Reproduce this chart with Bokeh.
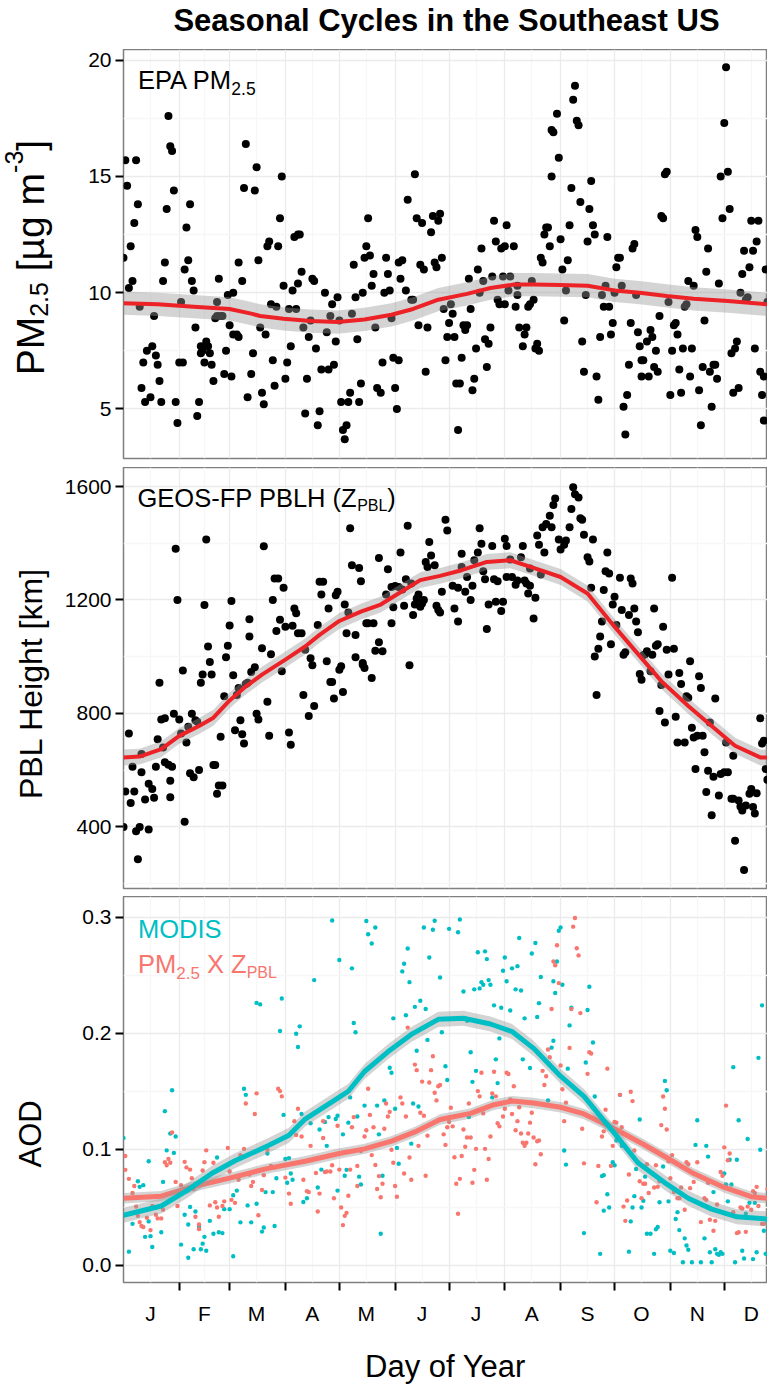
import numpy as np
from bokeh.plotting import figure
from bokeh.layouts import column, row
from bokeh.models import FixedTicker, Label, Range1d, PrintfTickFormatter
from bokeh.embed import file_html
from bokeh.resources import INLINE

FONT = "Liberation Sans"

# ---------------- data (day of year, value) ----------------
pm25_obs = [(1,11.5),(2,15.7),(3,14.6),(4,10.2),(5,12.0),(6,10.5),(7,13.0),(8,15.7),(9,13.8),(10,9.4),(11,5.9),(12,7.0),(13,5.3),(14,7.5),(16,5.5),(17,7.7),(18,9.0),(19,7.3),(20,6.9),(21,6.2),(22,5.3),(23,10.5),(24,11.3),(25,13.6),(26,17.6),(27,16.3),(28,16.1),(29,14.4),(30,5.3),(31,4.4),(32,7.0),(33,9.6),(34,7.0),(35,11.0),(36,12.8),(37,11.4),(38,13.8),(39,10.5),(40,10.1),(41,8.5),(42,4.7),(43,5.3),(44,7.7),(44,7.4),(45,7.5),(46,7.0),(47,7.9),(48,7.7),(49,7.4),(50,6.9),(51,6.2),(52,8.9),(53,9.6),(53,9.0),(54,10.6),(55,9.0),(56,9.0),(57,6.5),(58,7.5),(59,9.9),(60,8.6),(61,6.4),(62,8.2),(62,10.0),(64,8.2),(65,8.1),(65,11.3),(67,10.5),(68,14.5),(69,16.4),(70,5.5),
    (72,6.5),(73,7.4),(74,14.4),(75,15.4),(76,11.4),(77,8.5),(78,5.7),(79,5.2),(80,8.2),(81,12.0),(82,12.2),(83,9.5),(84,7.1),(85,6.0),(86,9.4),(87,12.0),(88,13.2),(89,15.0),(90,10.3),(91,6.3),(92,7.0),(93,9.3),(94,7.7),(95,10.1),(96,12.4),(97,9.3),(98,12.5),(98,10.4),(99,12.5),(100,10.9),(101,8.5),(102,4.8),(103,6.3),(104,8.1),(105,8.8),(106,10.6),(107,10.5),(108,7.6),(109,4.3),(110,4.9),(111,6.7),(113,10.0),(114,8.3),(115,6.7),(116,9.0),(117,9.5),(118,6.9),(119,7.9),(120,9.8),(121,8.8),(122,5.3),(123,4.1),(124,3.7),(125,4.3),(126,5.3),(127,5.7),(128,9.1),(129,11.2),(130,9.8),(131,8.0),(132,5.3),(133,6.1),(134,10.0),(135,11.5),(136,12.0),(137,13.2),(138,11.6),(139,10.3),(140,10.8),(141,8.5),(142,5.9),(144,5.7),(145,7.0),(146,10.0),(147,11.5),(148,10.8),(149,10.1),(150,8.9),(151,7.2),(152,5.9),(153,5.0),(154,7.1),(154,11.3),(155,10.6),
    (156,11.4),(158,10.1),(159,14.0),(161,9.7),(162,9.7),(163,15.1),(164,13.2),(165,8.6),(166,11.2),(167,13.0),(168,11.0),(169,6.6),(170,8.5),(172,12.6),(173,13.3),(174,11.3),(175,11.1),(176,13.1),(177,13.4),(178,11.5),(179,9.3),(180,7.1),(181,8.1),(182,8.7),(183,9.5),(184,9.1),(185,8.1),(186,6.1),(187,4.1),(188,6.1),(189,7.2),(190,8.6),(191,8.4),(192,8.6),(193,10.6),(194,9.3),(195,5.8),(196,6.3),(197,7.6),(198,11.0),(199,10.0),(200,11.9),(201,10.5),(202,8.0),(203,6.8),(204,7.8),(205,8.5),(206,10.7),(207,13.1),(208,12.2),(209,9.7),(210,9.5),(211,11.9),(212,10.7),(213,12.0),(213,9.5),(214,12.9),(215,10.1),(216,10.7),(218,12.0),(219,9.4),(220,9.9),(220,10.3),(221,8.5),(223,7.7),(224,8.2),(225,8.5),(226,9.4),(227,9.5),(228,10.5),(229,9.7),(230,7.6),(231,7.8),(232,7.5),(233,11.5),(234,11.3),(235,12.5),(236,12.8),(237,12.8),(238,12.0),(239,15.0),(239,17.0),(240,16.9),(242,17.7),(243,15.8),(244,12.3),(245,11.0),(246,8.8),(247,10.1),(248,11.4),(249,12.9),(250,14.5),(251,18.3),(252,18.9),(253,17.4),(254,17.2),(255,13.9),(256,7.9),(257,6.6),(258,9.9),(259,12.2),(260,13.6),(261,14.8),(262,12.9),(263,12.5),(264,6.4),(265,5.4),(266,8.1),(267,9.9),(268,9.4),(269,10.3),(270,12.4),(271,9.4),(272,8.2),(273,8.7),(274,10.0),(275,11.1),(276,11.5),(277,11.5),(278,10.3),(279,5.1),(280,3.9),(281,5.6),(282,6.9),(283,8.7),(284,11.9),(285,12.1),(286,9.9),(287,8.3),(288,7.7),(289,6.4),(289,7.1),(290,7.1),(292,7.9),(293,6.4),(294,8.4),(295,8.1),(296,6.8),(297,7.5),(298,6.6),(299,9.0),(300,13.3),(301,13.2),(302,15.1),(303,15.2),(304,9.6),(305,5.6),(306,7.5),(307,8.6),(308,8.7),(309,8.2),(310,6.7),(311,5.7),(312,7.6),(313,9.4),(314,9.5),(315,10.5),(316,6.4),(317,7.6),(318,10.3),(319,12.7),(320,12.4),(321,5.8),(322,4.3),(323,6.8),(324,8.8),(325,10.9),(326,11.9),(327,6.6),(328,5.1),(329,6.9),(330,6.9),(331,6.3),(332,10.4),(333,15.0),(334,13.2),(335,17.3),(336,19.7),(337,15.2),(338,13.6),(339,7.4),(340,5.7),(341,7.6),(342,7.9),(343,5.9),(344,10.0),(345,10.8),(346,11.8),(347,9.7),(348,9.8),(349,11.1),(350,13.1),(351,11.8),(352,7.6),(353,12.2),(354,13.1),(355,6.6),(356,5.6),(357,4.5),(357,6.4),(358,11.0),(359,9.6)]

pm25_fit_day = [1, 20, 40, 60, 72, 77, 90, 105, 120, 135, 150, 162, 176, 192, 205, 218, 229, 244, 259, 274, 288, 303, 318, 337, 359]
pm25_fit = [9.55, 9.5, 9.4, 9.3, 9.1, 9.0, 8.88, 8.78, 8.74, 8.85, 9.05, 9.3, 9.7, 9.95, 10.2, 10.35, 10.35, 10.33, 10.3, 10.1, 10.0, 9.86, 9.74, 9.64, 9.5]
pm25_se = 0.5

pblh_obs = [(1,400),(2,525),(4,729),(5,484),(6,612),(7,525),(8,385),(9,286),(10,400),(11,593),(11,657),(13,497),(15,391),(15,552),(17,534),(18,503),(19,612),(20,709),(21,908),(22,779),(23,680),(24,628),(24,783),(26,619),(27,563),(27,505),(28,612),(29,799),(30,1381),(31,1200),(32,779),(33,729),(34,951),(35,418),(36,698),(37,753),(38,589),(39,799),(40,575),(41,776),(42,771),(43,601),(44,908),(45,937),(46,1182),(47,1413),(48,1036),(49,981),(50,937),(51,618),(52,618),(53,517),(54,546),(55,718),(56,546),(57,861),(58,998),(59,1039),(60,1110),(61,1196),(62,935),(63,741),(64,865),(65,890),(66,776),(67,727),(68,694),(69,904),(70,908),(71,1071),(71,1132),(72,946),(74,963),(75,799),(76,779),(78,1030),(79,1389),(81,841),(82,721),(83,1009),(84,1200),(85,1276),(86,1091),(87,1276),(88,1130),(89,949),(90,1243),(91,1106),(93,733),(94,690),(95,1109),(96,1170),(97,1153),(98,1083),(100,1083),(101,865),(102,1025),(104,791),(105,995),(106,970),(107,826),(109,1112),(110,1264),(111,1219),(112,1264),(114,984),(115,1170),(116,911),(117,911),(118,853),(119,1217),(120,1229),(121,954),(122,966),(123,876),(124,1184),(125,1083),(126,1156),(127,1453),(128,1322),(130,1077),(130,998),(132,1313),(133,1266),(134,972),(134,978),(135,960),(136,1118),(137,1118),(139,925),(140,1118),(141,1021),(143,1348),(143,1051),(145,1019),(147,1219),(148,1308),(150,1118),(150,1246),(151,1174),(152,1249),(154,1246),(155,1367),(156,1237),(157,1180),(158,1273),(159,1462),(160,970),(161,1258),(162,1147),(163,1184),(164,1205),(165,1219),(166,1176),(167,1188),(168,1200),(169,1334),(170,1316),(171,1404),(172,1357),(174,1322),(175,1180),(176,1165),(177,1156),(178,1229),(180,1483),(181,1445),
    (184,1250),(185,1170),(187,1124),(187,1243),(189,1316),(189,1363),(191,1229),(192,1281),(194,1200),(195,1250),(196,1340),(198,1367),(199,1453),(200,1398),(201,1301),(202,1273),(203,1098),(204,1184),(206,1390),(207,1273),(208,1194),(209,1266),(211,1161),(212,1194),(213,1416),(214,1390),(214,1281),(216,1343),(217,1281),(219,1254),(220,1269),(222,1351),(223,1390),(224,1269),(225,1258),(226,1223),(227,1311),(227,1250),(229,1135),(230,1208),(231,1427),(232,1395),(233,1290),(234,1456),(235,1367),(236,1468),(238,1497),(239,1456),(240,1535),(241,1558),(243,1413),(244,1378),(246,1395),(247,1410),(249,1456),(250,1521),(251,1597),(252,1573),(254,1561),(255,1488),(256,1483),(257,1430),(259,1351),(260,1336),(261,1243),(262,1413),(263,1001),(264,865),(265,1028),(266,1071),(267,1124),(268,1235),(269,1301),(270,1367),(271,1293),(272,1044),(273,1184),(274,1211),(275,1112),(277,1278),(278,1165),(279,1007),(280,1016),(282,1147),(283,1276),(284,1258),(285,1170),(286,1124),(287,1086),(288,939),(289,919),(290,1005),(291,1009),(292,1019),(294,949),(295,1007),(296,1170),(297,1039),(298,1044),(299,809),(300,900),(301,1106),(302,768),(303,1025),(304,937),(306,1278),(307,1028),(308,788),(309,698),(310,943),(311,904),(313,698),(314,861),(315,855),(316,984),(317,750),(318,715),(319,604),(320,721),(321,931),(322,890),(323,721),(324,663),(325,523),(326,598),(327,768),(328,441),(329,577),(330,853),(332,511),(333,587),(335,593),(336,698),(337,593),(339,499),(340,651),(340,499),(341,351),(343,493),(344,472),(345,458),(346,248),(347,476),(349,517),(350,534),(351,470),(352,447),(353,519),(355,783),(356,694),(357,704),(358,604),(359,566)]

pblh_fit_day = [1, 10, 22, 32, 43, 51, 60, 68, 78, 91, 102, 110, 121, 133, 144, 157, 166, 177, 189, 203, 216, 229, 244, 259, 274, 289, 300, 315, 328, 341, 355, 359]
pblh_fit = [645, 648, 674, 721, 756, 785, 846, 890, 937, 990, 1036, 1077, 1126, 1159, 1184, 1235, 1270, 1285, 1305, 1334, 1340, 1313, 1281, 1223, 1106, 995, 914, 826, 756, 686, 645, 645]
pblh_se = 28

modis_obs = [(1,.1096),(4,.0116),(6,.0356),(9,.0723),(10,.0675),(12,.069),(13,.0244),(15,.0377),(15,.0896),(16,.025),(17,.0156),(22,.0284),(23,.0718),(24,.1328),(25,.099),(27,.1136),(28,.1509),(29,.0968),(30,.1109),(33,.0177),(35,.0435),(37,.035),(37,.0063),(38,.0502),(40,.0137),(41,.0462),(43,.0329),(44,.0137),(45,.0185),(46,.0244),(47,.0124),(49,.0382),(51,.027),(53,.0928),(54,.0284),(56,.0276),(57,.0483),(60,.0483),(62,.0076),(62,.0603),(64,.0643),(66,.0369),(68,.1522),(69,.1469),(70,.0515),(72,.0369),(75,.0529),(75,.2262),(77,.2249),(78,.0289),(79,.0324),(80,.063),(81,.0963),(83,.1043),(84,.063),(85,.0337),(86,.075),(88,.202),(89,.23),(90,.1296),(91,.0915),(92,.071),(93,.0923),(94,.079),(95,.0736),(97,.1996),(98,.1881),(99,.206),(100,.1304),(101,.0545),(103,.0577),(105,.1224),(107,.2459),(109,.067),(110,.117),(111,.0824),(113,.1234),(114,.1029),(115,.1277),(120,.0643),
    (117,.2973),(119,.1261),(120,.1288),(121,.2632),(123,.1128),(124,.0771),(125,.0822),(126,.1229),(127,.1447),(128,.256),(129,.2089),(130,.2009),(131,.1282),(132,.0763),(133,.0696),(135,.1376),(136,.2968),(137,.2854),(139,.2774),(141,.2912),(142,.1376),(143,.1128),(144,.027),(145,.0771),(146,.1421),(149,.1703),(150,.166),(151,.2129),(152,.1349),(153,.1011),(154,.0875),(156,.2534),(157,.26),(158,.2156),(159,.2731),(160,.2441),(161,.1048),(162,.1394),(163,.2228),(164,.1849),(165,.1368),(166,.2281),(168,.2912),(169,.2209),(170,.1943),(171,.2654),(173,.2893),(174,.2971),(177,.2481),(178,.2009),(180,.1716),(181,.1597),(182,.2901),(187,.2872),(188,.2981),(190,.2361),(192,.2108),(193,.1277),(194,.1836),(195,.1581),(196,.2379),(197,.1676),(198,.2699),(199,.2387),(200,.2441),(201,.2419),(202,.2707),(203,.264),(204,.2459),(205,.2419),(206,.1447),(207,.2241),(208,.1775),(209,.157),(210,.1956),(211,.222),(212,.2539),(213,.2654),(214,.2449),(216,.2196),(217,.256),(219,.2379),(220,.2579),(221,.2822),(222,.2369),(223,.1775),(224,.2129),(227,.17),(228,.2688),(230,.2779),(231,.214),(232,.226),(233,.2486),(237,.1421),
    (239,.1876),(240,.1935),(240,.2449),(241,.2347),(242,.2619),(243,.2885),(244,.2912),(245,.2419),(246,.0989),(247,.0867),(248,.1695),(249,.2068),(250,.222),(257,.0276),(258,.1748),(259,.2201),(260,.2401),(262,.1921),(263,.1455),(266,.0097),(267,.0768),(268,.0776),(268,.047),(270,.0611),(271,.0497),(273,.0888),(274,.0862),(275,.1075),(277,.1469),(278,.1029),(279,.1029),(282,.0116),(283,.0377),(284,.0497),(285,.0595),(286,.0829),(288,.1256),(289,.0497),(290,.0555),(291,.0763),(292,.027),(294,.027),(296,.0097),(297,.031),(298,.0329),(299,.0542),(301,.0851),(302,.1589),(303,.1509),(304,.055),(305,.0124),(307,.0105),(308,.0398),(309,.0457),(310,.0302),(312,.0025),(313,.0231),(314,.0169),(315,.0132),(317,.0025),(319,.1037),(320,.125),(322,.0025),(324,.0231),(325,.1029),(326,.0936),(327,.0111),(328,.0025),(329,.063),(330,.0137),(331,.0097),(332,.0089),(333,.0111),(334,.0097),(335,.079),(336,.0696),(337,.055),(338,.0909),(339,.0696),(340,.1708),(341,.0025),(342,.0909),(343,.125),(345,.0124),(346,.0057),(347,.0443),(348,.1088),(349,.0537),(351,.0052),(352,.0537),(353,.0111),(354,.1788),(355,.0995),(356,.2241),(357,.0297),(358,.0097),(359,.0377)]

pmz_obs = [(2,.0941),(2,.0822),(4,.0744),(6,.0622),(7,.0683),(8,.0505),(9,.0425),(10,.0371),(11,.0337),(12,.0329),(14,.0409),(16,.0302),(17,.051),(19,.0435),(19,.0497),(20,.0403),(22,.0403),(23,.0478),(24,.0888),(25,.0862),(26,.0915),(27,.0883),(28,.1144),(30,.0718),(31,.051),(33,.069),(35,.0891),(36,.0843),(38,.0824),(39,.075),(40,.0657),(41,.0417),(43,.035),(43,.031),(45,.0816),(46,.0888),(47,.099),(49,.0515),(51,.0883),(52,.0542),(53,.0497),(54,.0417),(56,.051),(57,.055),(59,.1011),(60,.0808),(61,.0563),(63,.0537),(65,.0736),(66,.0949),(68,.1003),(69,.1394),(71,.0782),(72,.0683),(73,.0718),(74,.1304),(75,.1482),(76,.043),(78,.0648),(79,.0776),(81,.0995),(83,.0856),(85,.0843),(87,.1522),(88,.1501),(89,.1456),(91,.0755),(93,.0617),(94,.0529),(96,.1242),(97,.1123),(98,.1349),(100,.1109),(101,.0736),(103,.0638),(104,.063),(105,.1029),(108,.0795),(109,.0462),(110,.0617),(112,.1242),(112,.1096),(113,.0803),(114,.0808),
    (116,.0808),(117,.0862),(118,.0577),(120,.1202),(121,.0824),(122,.0497),(123,.0345),(124,.0425),(125,.0451),(126,.0598),(127,.0824),(128,.1189),(129,.1277),(131,.0856),(131,.0683),(133,.0984),(135,.1109),(136,.1163),(137,.1522),(138,.1296),(139,.0949),(140,.1189),(141,.0864),(142,.0657),(143,.0768),(144,.0585),(145,.0702),(146,.1176),(147,.1394),(148,.1282),(149,.1322),(150,.0995),(151,.0883),(152,.0683),(153,.059),(155,.1447),(156,.1394),(157,.079),(158,.1282),(159,.2049),(160,.0928),(161,.0736),(163,.173),(164,.1682),(165,.1029),(166,.1314),(167,.1583),(168,.1288),(169,.0771),(170,.1117),(171,.1575),(172,.1682),(173,.1802),(174,.1487),(175,.1421),(176,.1543),(177,.1554),(179,.1128),(180,.1037),(181,.1189),(182,.1234),(183,.1357),(184,.1197),(185,.0931),(186,.0702),(187,.0443),(188,.0744),(189,.0941),(190,.117),(191,.1021),(192,.1101),(193,.1394),(194,.1101),(195,.071),(196,.0822),(197,.1003),(198,.1501),(199,.1456),(200,.166),(201,.1309),(202,.1003),(203,.0736),(204,.0915),(205,.1109),(206,.1482),(207,.1668),(208,.1456),(209,.1224),(210,.1197),(211,.1394),(212,.1282),(213,.1349),(214,.166),(215,.1649),(216,.1429),(217,.1304),(218,.1543),(219,.1163),(220,.1242),(221,.1362),(222,.1136),(223,.1056),(224,.1029),(225,.1056),(226,.1136),(227,.1229),(228,.1314),(229,.1101),(230,.087),(231,.1069),(232,.1075),(233,.0957),(234,.1676),(235,.1554),(236,.1629),(237,.186),(238,.1794),
    (239,.2209),(240,.2619),(241,.2587),(242,.276),(243,.2433),(244,.1722),(245,.1517),(246,.1242),(247,.1402),(249,.1874),(250,.2209),(251,.292),(252,.2995),(253,.2734),(254,.2672),(255,.2174),(256,.1176),(257,.0878),(259,.165),(260,.1836),(261,.1826),(264,.0542),(265,.0856),(267,.1109),(268,.1154),(269,.1341),(270,.1695),(272,.0856),(273,.1029),(274,.1234),(275,.1229),(277,.1469),(278,.1189),(279,.0505),(280,.0382),(281,.0558),(282,.0782),(283,.1495),(284,.1415),(285,.0989),(287,.0888),(288,.0723),(289,.0577),(290,.0702),(291,.0702),(292,.087),(293,.0622),(295,.079),(296,.067),(297,.0862),(298,.0675),(299,.0723),(300,.1208),(301,.1455),(302,.1349),(303,.117),(304,.0896),(305,.075),(306,.0949),(307,.063),(309,.0577),(310,.0577),(311,.067),(313,.0478),(314,.0888),(315,.087),(316,.0664),(318,.0718),(320,.0888),(322,.0371),(324,.0577),(325,.0563),(326,.071),(327,.0391),(329,.0297),(330,.0382),(331,.0523),(333,.0803),(334,.0771),(335,.1016),(336,.1376),(337,.0904),(338,.0963),(340,.0457),(342,.0276),(343,.0284),(344,.0497),(345,.0489),(347,.0287),(348,.0505),(350,.0478),(351,.0638),(352,.0622),(353,.0675),(354,.051),(356,.0356),(357,.0356),(359,.0657)]

modis_fit_day = [1, 22, 36, 50, 63, 80, 93, 102, 110, 121, 126, 135, 148, 161, 176, 190, 205, 217, 229, 244, 257, 274, 287, 302, 315, 328, 342, 359]
modis_fit = [0.043, 0.051, 0.064, 0.079, 0.090, 0.102, 0.112, 0.126, 0.134, 0.145, 0.150, 0.167, 0.184, 0.199, 0.212, 0.213, 0.208, 0.2015, 0.187, 0.163, 0.1455, 0.1136, 0.0883, 0.071, 0.0577, 0.0483, 0.0417, 0.0398]
modis_se = 0.0065

pmz_fit_day = [1, 22, 41, 60, 80, 102, 121, 135, 150, 163, 177, 194, 207, 217, 229, 244, 257, 274, 290, 305, 318, 335, 350, 359]
pmz_fit = [0.0577, 0.0595, 0.0683, 0.075, 0.083, 0.0896, 0.0963, 0.1003, 0.1069, 0.1149, 0.1256, 0.1309, 0.1384, 0.1415, 0.1399, 0.1362, 0.1304, 0.1176, 0.1043, 0.0909, 0.079, 0.067, 0.059, 0.0577]
pmz_se = 0.0045

month_start = [32, 60, 91, 121, 152, 182, 213, 244, 274, 305, 335]
month_mid = [16, 46, 75, 106, 136, 167, 197, 228, 259, 289, 320, 350]
month_labels = ["J", "F", "M", "A", "M", "J", "J", "A", "S", "O", "N", "D"]

# ---------------- styling helpers ----------------
AW = {' ': 278, '-': 333, '.': 278, '(': 333, ')': 333, '[': 278, ']': 278, 'µ': 576,
      '0': 556, '1': 556, '2': 556, '3': 556, '5': 556,
      'A': 667, 'B': 667, 'D': 722, 'E': 667, 'F': 611, 'G': 778, 'H': 722, 'I': 278,
      'L': 556, 'M': 833, 'O': 778, 'P': 667, 'S': 667, 'X': 667, 'Z': 611,
      'g': 556, 'm': 833}


def tw(s, size):
    return sum(AW.get(c, 556) for c in s) * size / 1000.0


def rich(p, parts, x, y, x_off, y_off, color, angle=0.0):
    pos = 0.0
    for text, size, shift, nudge in parts:
        lead = len(text) - len(text.lstrip(" "))
        pos += tw(" " * lead, size) + nudge
        t = text.lstrip(" ")
        if angle == 0.0:
            xo, yo = x_off + pos, y_off + shift
        else:
            xo, yo = x_off - shift, y_off + pos
        p.add_layout(Label(x=x, y=y, x_offset=xo, y_offset=yo, text=t, angle=angle,
                           text_font=FONT, text_font_size=f"{size}px", text_color=color,
                           text_baseline="alphabetic", text_align="left"))
        pos += tw(t, size)


X0 = 1
X1 = 1 + 644 / 1.7987
LABW = 60          # width of the strip holding the y titles
PW = 707           # width of each panel figure
LEFT = 63          # room for tick labels inside the panel figure
RED = "#EC2227"
TEAL = "#00BFC4"
SALMON = "#F8766D"


def blank(w, h):
    f = figure(width=w, height=h, x_range=Range1d(0, w), y_range=Range1d(0, h),
               x_axis_type=None, y_axis_type=None, output_backend="svg", toolbar_location=None,
               min_border=0, outline_line_color=None)
    f.background_fill_color = "white"
    f.border_fill_color = "white"
    return f


def make_fig(height, yr, bb, yticks, yminor):
    p = figure(width=PW, height=height, x_range=Range1d(X0, X1), y_range=Range1d(*yr),
               output_backend="svg", toolbar_location=None,
               min_border_left=LEFT, min_border_right=0, min_border_top=0, min_border_bottom=bb)
    p.outline_line_color = "#7F7F7F"
    p.outline_line_width = 1.5
    p.background_fill_color = "white"
    p.border_fill_color = "white"
    p.xgrid.ticker = FixedTicker(ticks=month_start, minor_ticks=month_mid)
    p.ygrid.ticker = FixedTicker(ticks=yticks, minor_ticks=yminor)
    for g in (p.xgrid, p.ygrid):
        g.grid_line_color = "#EBEBEB"
        g.grid_line_width = 1.3
        g.minor_grid_line_color = "#F7F7F7"
        g.minor_grid_line_width = 1.3
    ya = p.yaxis[0]
    ya.ticker = FixedTicker(ticks=yticks)
    ya.axis_line_color = None
    ya.major_tick_line_color = "black"
    ya.major_tick_line_width = 2
    ya.major_tick_out = 8
    ya.major_tick_in = 0
    ya.minor_tick_line_color = None
    ya.major_label_text_font = FONT
    ya.major_label_text_font_size = "21px"
    ya.major_label_text_color = "black"
    ya.major_label_standoff = 4
    return p


def band(p, days, fit, se):
    d = np.array(days, dtype=float)
    f = np.array(fit, dtype=float)
    p.varea(x=d, y1=f - se, y2=f + se, fill_color="#999999", fill_alpha=0.42)


# heights (px)
H_T, H1, H2, H3 = 49, 418, 429, 496
YT_X = 30   # anchor of the rotated y titles inside their strip

# ---------------- title ----------------
t = blank(LABW + PW, H_T)
t.add_layout(Label(x=446, y=29, text="Seasonal Cycles in the Southeast US",
                   text_font=FONT, text_font_size="31px", text_font_style="bold", text_color="black",
                   text_align="center", text_baseline="alphabetic"))

# ---------------- panel 1: PM2.5 ----------------
PM_Y = (2.87, 20.46)
p1 = make_fig(H1, PM_Y, 9, [5, 10, 15, 20], [7.5, 12.5, 17.5])
p1.xaxis.visible = False
d, v = zip(*pm25_obs)
p1.scatter(list(d), list(v), size=8, fill_color="black", line_color=None)
band(p1, pm25_fit_day, pm25_fit, pm25_se)
p1.line(pm25_fit_day, pm25_fit, line_color=RED, line_width=4)
rich(p1, [("EPA PM", 25.5, 0, 0), ("2.5", 17.5, -9, -3)], X0, PM_Y[1], 14.5, -30, "black")
l1 = blank(LABW, H1)
rich(l1, [("PM", 39, 0, 0), ("2.5", 25, -8, 0), (" [µg m", 39, 0, 0), ("-3", 25, 17, 0), ("]", 39, 0, 0)],
     YT_X, 85, 0, 0, "black", angle=np.pi / 2)

# ---------------- panel 2: PBLH ----------------
PB_Y = (183, 1667)
p2 = make_fig(H2, PB_Y, 8, [400, 800, 1200, 1600], [200, 600, 1000, 1400])
p2.xaxis.visible = False
d, v = zip(*pblh_obs)
p2.scatter(list(d), list(v), size=8, fill_color="black", line_color=None)
band(p2, pblh_fit_day, pblh_fit, pblh_se)
p2.line(pblh_fit_day, pblh_fit, line_color=RED, line_width=4)
rich(p2, [("GEOS-FP PBLH (Z", 25.5, 0, 0), ("PBL", 16, -8, 0), (")", 25.5, 0, 0)], X0, PB_Y[1], 14, -30, "black")
l2 = blank(LABW, H2)
l2.add_layout(Label(x=YT_X, y=209, text="PBL Height [km]", angle=np.pi / 2, text_font=FONT,
                    text_font_size="32px", text_color="black", text_align="center",
                    text_baseline="alphabetic"))

# ---------------- panel 3: AOD ----------------
AOD_Y = (-0.015, 0.318)
p3 = make_fig(H3, AOD_Y, 110, [0.0, 0.1, 0.2, 0.3], [0.05, 0.15, 0.25])
p3.yaxis[0].formatter = PrintfTickFormatter(format="%.1f")
xa = p3.xaxis[0]
xa.ticker = FixedTicker(ticks=month_mid, minor_ticks=month_start)
xa.major_label_overrides = {m: lab for m, lab in zip(month_mid, month_labels)}
xa.axis_line_color = None
xa.major_tick_line_color = None
xa.major_tick_out = 8
xa.minor_tick_line_color = "black"
xa.minor_tick_line_width = 2
xa.minor_tick_out = 8
xa.minor_tick_in = 0
xa.major_label_text_font = FONT
xa.major_label_text_font_size = "21px"
xa.major_label_text_color = "black"
xa.major_label_standoff = 11
xa.axis_label = "Day of Year"
xa.axis_label_text_font = FONT
xa.axis_label_text_font_size = "31px"
xa.axis_label_text_font_style = "normal"
xa.axis_label_text_color = "black"
xa.axis_label_standoff = 21

d, v = zip(*modis_obs)
p3.scatter(list(d), list(v), size=4.4, fill_color=TEAL, line_color=None)
d, v = zip(*pmz_obs)
p3.scatter(list(d), list(v), size=4.4, fill_color=SALMON, line_color=None)
band(p3, pmz_fit_day, pmz_fit, pmz_se)
p3.line(pmz_fit_day, pmz_fit, line_color=SALMON, line_width=5)
band(p3, modis_fit_day, modis_fit, modis_se)
p3.line(modis_fit_day, modis_fit, line_color=TEAL, line_width=5)
rich(p3, [("MODIS", 25.5, 0, 0)], X0, AOD_Y[1], 14.5, -32, TEAL)
rich(p3, [("PM", 25.5, 0, 0), ("2.5", 17, -9, 0), (" X Z", 25.5, 0, 0), ("PBL", 16, -9, 0)], X0, AOD_Y[1], 14.5, -67, SALMON)
l3 = blank(LABW, H3)
l3.add_layout(Label(x=YT_X, y=191, text="AOD", angle=np.pi / 2, text_font=FONT,
                    text_font_size="31px", text_color="black", text_align="center",
                    text_baseline="alphabetic"))

layout = column(t, row(l1, p1, spacing=0), row(l2, p2, spacing=0), row(l3, p3, spacing=0), spacing=0)
open("out.html", "w").write(file_html(layout, INLINE))
